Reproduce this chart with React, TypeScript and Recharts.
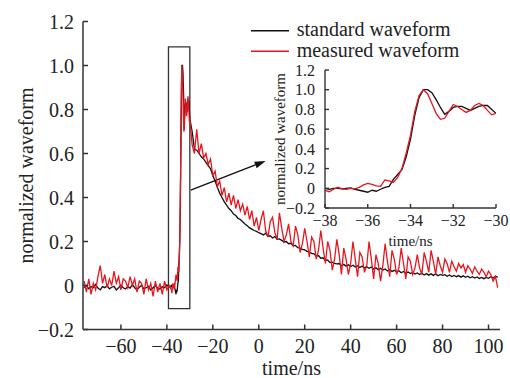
import React from 'react';
import { LineChart, Line, XAxis, YAxis, ReferenceArea, ReferenceLine, Legend } from 'recharts';

// time axis pieces (ns)
const steps = (from: number, to: number, step: number) => {
  const out: number[] = [];
  const n = Math.round((to - from) / step);
  for (let i = 0; i <= n; i++) out.push(Math.round((from + i * step) * 10) / 10);
  return out;
};
const preTime = steps(-76, -39, 1);
const insetTime = steps(-38, -30, 0.2);
const tailTime = steps(-29, 104, 1);

const preStandard = [
  -0.01, 0.0, -0.015, -0.005, -0.01, 0.005, -0.012, -0.02, -0.005, -0.01, 0.0, -0.015, -0.008,
  -0.004, -0.02, -0.01, 0.002, -0.01, -0.016, -0.005, -0.012, 0.004, -0.01, -0.02, -0.008, 0.0,
  -0.015, -0.01, -0.004, -0.02, -0.01, 0.0, -0.012, -0.016, -0.006, -0.01, 0.002, -0.008,
];
const preMeasured = [
  0.02, -0.03, 0.03, -0.04, 0.01, -0.02, 0.04, 0.09, 0.01, 0.05, -0.01, 0.03, 0.0, 0.065, 0.01,
  0.04, -0.02, 0.03, 0.02, -0.01, 0.04, 0.0, 0.03, -0.03, 0.02, 0.01, -0.04, 0.03, -0.02, 0.01,
  -0.05, 0.02, -0.03, 0.01, -0.04, 0.02, -0.02, 0.0,
];

const insetStandard = [
  0.0, -0.01, 0.0, 0.0, -0.005, 0.0, 0.005, -0.01, -0.02, -0.03, -0.04, -0.02, -0.03, -0.01, 0.01,
  0.02, 0.09, 0.14, 0.19, 0.32, 0.5, 0.74, 0.92, 1.0, 1.0, 0.97, 0.9, 0.82, 0.75, 0.78, 0.82, 0.83,
  0.83, 0.81, 0.79, 0.81, 0.83, 0.84, 0.84, 0.8, 0.76,
];
const insetMeasured = [
  -0.02, -0.035, -0.01, 0.01, -0.005, -0.01, 0.0, -0.005, 0.01, 0.035, 0.05, 0.04, 0.025, 0.02,
  0.085, 0.075, 0.06, 0.11, 0.2, 0.36, 0.54, 0.78, 0.94, 1.0, 0.96, 0.86, 0.76, 0.7, 0.71, 0.78,
  0.85, 0.83, 0.8, 0.77, 0.79, 0.84, 0.86, 0.84, 0.79, 0.745, 0.76,
];

const tailStandard = [
  0.7, 0.62, 0.615, 0.6, 0.585, 0.575, 0.56, 0.545, 0.53, 0.5, 0.475, 0.445, 0.42, 0.4, 0.38,
  0.365, 0.35, 0.34, 0.325, 0.318, 0.305, 0.3, 0.29, 0.28, 0.272, 0.262, 0.256, 0.25, 0.246, 0.24,
  0.236, 0.23, 0.238, 0.224, 0.226, 0.216, 0.222, 0.21, 0.212, 0.205,
  0.198, 0.2, 0.19, 0.192, 0.18, 0.182, 0.172, 0.17, 0.164, 0.162,
  0.155, 0.152, 0.146, 0.144, 0.134, 0.136, 0.124, 0.126, 0.114, 0.116,
  0.104, 0.106, 0.1, 0.098, 0.1, 0.09, 0.096, 0.088, 0.094, 0.086,
  0.092, 0.084, 0.09, 0.082, 0.088, 0.08, 0.085, 0.078, 0.084, 0.074,
  0.08, 0.072, 0.078, 0.07, 0.075, 0.066, 0.073, 0.064, 0.069, 0.062,
  0.067, 0.058, 0.064, 0.056, 0.061, 0.054, 0.059, 0.052, 0.057, 0.05,
  0.056, 0.048, 0.054, 0.047, 0.053, 0.046, 0.052, 0.044, 0.05, 0.046,
  0.049, 0.042, 0.048, 0.041, 0.046, 0.04, 0.045, 0.038, 0.044, 0.037,
  0.042, 0.035, 0.04, 0.034, 0.039, 0.032, 0.037, 0.031, 0.037, 0.033,
  0.04, 0.034, 0.042, 0.037,
];
const tailMeasured = [
  0.64, 0.6, 0.71, 0.6, 0.645, 0.58, 0.6, 0.55, 0.575, 0.5, 0.52, 0.45, 0.475, 0.41, 0.445, 0.38,
  0.42, 0.365, 0.41, 0.35, 0.39, 0.34, 0.37, 0.32, 0.36, 0.3, 0.34, 0.27, 0.31, 0.25,
  0.3, 0.34, 0.25, 0.22, 0.29, 0.31, 0.24, 0.21, 0.33, 0.26,
  0.2, 0.23, 0.28, 0.2, 0.18, 0.27, 0.23, 0.15, 0.19, 0.26,
  0.2, 0.13, 0.22, 0.2, 0.12, 0.16, 0.25, 0.17, 0.1, 0.2,
  0.16, 0.07, 0.12, 0.21, 0.14, 0.05, 0.17, 0.12, 0.05, 0.1,
  0.2, 0.12, 0.04, 0.15, 0.13, 0.06, 0.09, 0.2, 0.12, 0.03,
  0.14, 0.1, 0.02, 0.09, 0.19, 0.11, 0.04, 0.16, 0.12, 0.05,
  0.08, 0.17, 0.1, 0.03, 0.13, 0.11, 0.05, 0.08, 0.14, 0.08,
  0.05, 0.15, 0.11, 0.06, 0.16, 0.11, 0.05, 0.13, 0.09, 0.06,
  0.12, 0.1, 0.06, 0.11, 0.085, 0.065, 0.1, 0.08, 0.095, 0.06,
  0.09, 0.075, 0.055, 0.085, 0.065, 0.05, 0.075, 0.06, 0.04, 0.065,
  0.05, 0.02, 0.04, -0.01,
];

const mainXTicks = [-60, -40, -20, 0, 20, 40, 60, 80, 100];
const mainYTicks = [-0.2, 0, 0.2, 0.4, 0.6, 0.8, 1.0, 1.2];
const insetXTicks = [-38, -36, -34, -32, -30];
const insetYTicks = [-0.2, 0, 0.2, 0.4, 0.6, 0.8, 1.0, 1.2];
const seriesOrder = ['standard', 'measured'];

const mainTime = [...preTime, ...insetTime, ...tailTime];
const mainStandard = [...preStandard, ...insetStandard, ...tailStandard];
const mainMeasured = [...preMeasured, ...insetMeasured, ...tailMeasured];

const mainData = mainTime.map((t, i) => ({ t, standard: mainStandard[i], measured: mainMeasured[i] }));
const insetData = insetTime.map((t, i) => ({ t, standard: insetStandard[i], measured: insetMeasured[i] }));

const FONT = 'Liberation Serif, Tinos, Times New Roman, DejaVu Serif, serif';
const AXIS = '#333';
const BLACK = '#111';
const RED = '#e8161e';
const TXT = '#222';

const fmtY = (v: number) => (v === 0 ? '0' : v.toFixed(1)).replace('-', '\u2212');
const fmtX = (v: number) => String(v).replace('-', '\u2212');

const Arrow = (props: any) => {
  const { x1, y1, x2, y2 } = props;
  const ang = Math.atan2(y2 - y1, x2 - x1);
  const len = 11;
  const half = 3.5;
  const bx = x2 - len * Math.cos(ang);
  const by = y2 - len * Math.sin(ang);
  const p1 = `${bx + half * Math.sin(ang)},${by - half * Math.cos(ang)}`;
  const p2 = `${bx - half * Math.sin(ang)},${by + half * Math.cos(ang)}`;
  return (
    <g>
      <line x1={x1} y1={y1} x2={bx} y2={by} stroke={BLACK} strokeWidth={1.3} />
      <polygon points={`${x2},${y2} ${p1} ${p2}`} fill={BLACK} />
    </g>
  );
};

const LegendBox = (props: any) => {
  const items = [...(props.payload || [])].sort(
    (a: any, b: any) => seriesOrder.indexOf(a.dataKey) - seriesOrder.indexOf(b.dataKey),
  );
  return (
    <svg width={262} height={52} style={{ display: 'block', fontFamily: FONT }}>
      {items.map((it: any, i: number) => (
        <g key={i}>
          <line x1={3} x2={41} y1={14.7 + i * 20.5} y2={14.7 + i * 20.5} stroke={it.color} strokeWidth={1.4} />
          <text x={48.7} y={20 + i * 21} style={{ fontFamily: FONT, fontSize: 20 }} fill={TXT}>
            {it.value}
          </text>
        </g>
      ))}
    </svg>
  );
};

const tickStyle = (size: number) => ({ fill: TXT, fontSize: size, fontFamily: FONT, style: { fontFamily: FONT } });

export default function App() {
  return (
    <div style={{ position: 'fixed', left: 0, top: 0, width: 510, height: 378, background: '#fff', fontFamily: FONT }}>
      <LineChart width={510} height={378} data={mainData} margin={{ top: 21.5, right: 10, left: 23, bottom: 1.5 }} style={{ fontFamily: FONT }}>
        <XAxis
          dataKey="t"
          type="number"
          domain={[-76.5, 105]}
          ticks={mainXTicks}
          interval={0}
          allowDataOverflow
          height={47}
          tickSize={-5}
          tickMargin={14}
          tickFormatter={fmtX}
          axisLine={{ stroke: AXIS, strokeWidth: 1.5 }}
          tickLine={{ stroke: AXIS, strokeWidth: 1.5 }}
          tick={tickStyle(20)}
          label={{ value: 'time/ns', position: 'insideBottom', offset: 2, fill: TXT, fontSize: 20, fontFamily: FONT, style: { fontFamily: FONT } }}
        />
        <YAxis
          type="number"
          domain={[-0.2, 1.2]}
          ticks={mainYTicks}
          interval={0}
          allowDataOverflow
          width={60}
          tickSize={-5}
          tickMargin={14}
          tickFormatter={fmtY}
          axisLine={{ stroke: AXIS, strokeWidth: 1.5 }}
          tickLine={{ stroke: AXIS, strokeWidth: 1.5 }}
          tick={tickStyle(20)}
          label={{
            value: 'normalized waveform',
            angle: -90,
            position: 'insideLeft',
            offset: 3,
            fill: TXT,
            fontSize: 20,
            fontFamily: FONT,
            style: { textAnchor: 'middle', fontFamily: FONT },
          }}
        />
        <ReferenceArea x1={-39.3} x2={-30} y1={-0.105} y2={1.085} fill="none" fillOpacity={0} stroke={AXIS} strokeWidth={1.3} />
        <ReferenceLine segment={[{ x: -29.6, y: 0.434 }, { x: 3, y: 0.566 }]} shape={Arrow} />
        <Line type="linear" dataKey="standard" name="standard waveform" stroke={BLACK} strokeWidth={1.3} dot={false} isAnimationActive={false} />
        <Line type="linear" dataKey="measured" name="measured waveform" stroke={RED} strokeWidth={1.3} dot={false} isAnimationActive={false} />
        <Legend layout="vertical" align="center" verticalAlign="middle" wrapperStyle={{ left: 248, top: 16, width: 262, height: 52 }} content={LegendBox} />
      </LineChart>

      <div style={{ position: 'absolute', left: 250, top: 55 }}>
        <LineChart width={260} height={200} data={insetData} margin={{ top: 15, right: 14, left: 15, bottom: 0 }} style={{ fontFamily: FONT }}>
          <XAxis
            dataKey="t"
            type="number"
            domain={[-38, -30]}
            ticks={insetXTicks}
            interval={0}
            allowDataOverflow
            height={47}
            tickSize={-4}
            tickMargin={10.5}
            tickFormatter={fmtX}
            axisLine={{ stroke: AXIS, strokeWidth: 1.4 }}
            tickLine={{ stroke: AXIS, strokeWidth: 1.4 }}
            tick={tickStyle(16)}
            label={{ value: 'time/ns', position: 'insideBottom', offset: 9, fill: TXT, fontSize: 15, fontFamily: FONT, style: { fontFamily: FONT } }}
          />
          <YAxis
            type="number"
            domain={[-0.2, 1.2]}
            ticks={insetYTicks}
            interval={0}
            allowDataOverflow
            width={60}
            tickSize={-4}
            tickMargin={14}
            tickFormatter={fmtY}
            axisLine={{ stroke: AXIS, strokeWidth: 1.4 }}
            tickLine={{ stroke: AXIS, strokeWidth: 1.4 }}
            tick={tickStyle(16)}
            label={{
              value: 'normalized waveform',
              angle: -90,
              position: 'insideLeft',
              offset: 14.3,
              fill: TXT,
              fontSize: 15,
              fontFamily: FONT,
              style: { textAnchor: 'middle', fontFamily: FONT },
            }}
          />
          <Line type="linear" dataKey="standard" stroke={BLACK} strokeWidth={1.3} dot={false} isAnimationActive={false} />
          <Line type="linear" dataKey="measured" stroke={RED} strokeWidth={1.3} dot={false} isAnimationActive={false} />
        </LineChart>
      </div>
    </div>
  );
}
